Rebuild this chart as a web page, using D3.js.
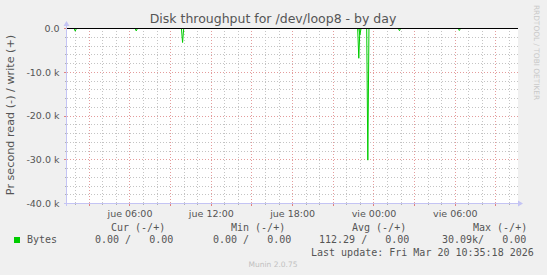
<!DOCTYPE html>
<html>
<head>
<meta charset="utf-8">
<script src="https://cdn.jsdelivr.net/npm/d3@7"></script>
<style>
  html, body { margin: 0; padding: 0; background: #f0f0f0; }
  svg { display: block; }
</style>
</head>
<body>
<div id="chart"></div>
<script>
// time window of the "by day" graph
const windowStart = new Date(2026, 2, 19, 1, 23, 25);
const windowEnd = new Date(2026, 2, 20, 10, 35, 18);

// read spikes (5 min samples), everything else is 0
const spikeTimes = [
  new Date(2026, 2, 19, 2, 0),
  new Date(2026, 2, 19, 6, 30),
  new Date(2026, 2, 19, 9, 55),
  new Date(2026, 2, 19, 22, 55),
  new Date(2026, 2, 19, 23, 0),
  new Date(2026, 2, 19, 23, 35),
  new Date(2026, 2, 20, 1, 55),
  new Date(2026, 2, 20, 6, 20)
];
const readValues = [-600, -550, -3200, -6800, -1400, -30090, -500, -450];

const yTicks = [0, -10000, -20000, -30000, -40000];
const dayNames = ["dom", "lun", "mar", "mié", "jue", "vie", "sáb"];

const legendHeads = ["Cur (-/+)", "Min (-/+)", "Avg (-/+)", "Max (-/+)"];
const legendValues = ["0.00 /   0.00", "0.00 /   0.00", "112.29 /   0.00", "30.09k/   0.00"];
const seriesName = "Bytes";
const lastUpdate = "Last update: Fri Mar 20 10:35:18 2026";

const W = 547, H = 275;
const plot = { left: 67, right: 517, top: 28, bottom: 203 };

const green = "#00cc00";
const textColor = "#555";
const axisColor = "#c4c4f4";
const minorColor = "#c4c4c4";
const majorColor = "#e49c9c";

const svg = d3.select("#chart").append("svg")
  .attr("width", W)
  .attr("height", H);

svg.append("rect")
  .attr("width", W).attr("height", H)
  .attr("fill", "#f0f0f0");

const x = d3.scaleTime()
  .domain([windowStart, windowEnd])
  .range([plot.left, plot.right]);

const y = d3.scaleLinear()
  .domain([-40000, 0])
  .range([plot.bottom, plot.top]);

const crisp = v => Math.round(v) + 0.5;

// canvas
svg.append("rect")
  .attr("x", plot.left)
  .attr("y", plot.top)
  .attr("width", plot.right - plot.left + 1)
  .attr("height", plot.bottom - plot.top)
  .attr("fill", "#fff");

const gridG = svg.append("g")
  .attr("stroke-width", 1)
  .attr("stroke-dasharray", "1,2")
  .attr("shape-rendering", "crispEdges")
  .attr("fill", "none");

// horizontal grid: minor every 2k, major every 10k
const yMinor = d3.range(-38000, 0, 2000).filter(v => v % 10000 !== 0);
const yMajor = [-30000, -20000, -10000, 0];

gridG.selectAll("line.hmin")
  .data(yMinor)
  .enter().append("line")
  .attr("x1", plot.left).attr("x2", plot.right + 1)
  .attr("y1", d => crisp(y(d))).attr("y2", d => crisp(y(d)))
  .attr("stroke", minorColor);

// vertical grid: minor each hour, major every 3 hours
const hours = d3.timeHour.every(1).range(windowStart, windowEnd);
const xMinor = hours.filter(d => d.getHours() % 3 !== 0);
const xMajor = hours.filter(d => d.getHours() % 3 === 0);

gridG.selectAll("line.vmin")
  .data(xMinor)
  .enter().append("line")
  .attr("x1", d => crisp(x(d))).attr("x2", d => crisp(x(d)))
  .attr("y1", plot.top).attr("y2", plot.bottom)
  .attr("stroke", minorColor);

gridG.selectAll("line.hmaj")
  .data(yMajor)
  .enter().append("line")
  .attr("x1", plot.left).attr("x2", plot.right + 1)
  .attr("y1", d => crisp(y(d))).attr("y2", d => crisp(y(d)))
  .attr("stroke", majorColor);

gridG.selectAll("line.vmaj")
  .data(xMajor)
  .enter().append("line")
  .attr("x1", d => crisp(x(d))).attr("x2", d => crisp(x(d)))
  .attr("y1", plot.top).attr("y2", plot.bottom)
  .attr("stroke", majorColor);

// axis ticks
const tickG = svg.append("g").attr("stroke-width", 1);
tickG.selectAll("line.xt")
  .data(hours)
  .enter().append("line")
  .attr("x1", d => crisp(x(d))).attr("x2", d => crisp(x(d)))
  .attr("y1", plot.bottom)
  .attr("y2", d => d.getHours() % 3 === 0 ? plot.bottom + 3 : plot.bottom + 2)
  .attr("stroke", d => d.getHours() % 3 === 0 ? "#e08080" : "#b0b0b0");

tickG.selectAll("line.yt")
  .data(d3.range(-38000, 1, 2000))
  .enter().append("line")
  .attr("y1", d => crisp(y(d))).attr("y2", d => crisp(y(d)))
  .attr("x1", d => d % 10000 === 0 ? plot.left - 3 : plot.left - 2)
  .attr("x2", plot.left)
  .attr("stroke", d => d % 10000 === 0 ? "#e08080" : "#b0b0b0");

// series: zero baseline with the read spikes
const points = [{ t: windowStart, v: 0 }];
spikeTimes.forEach((t, i) => {
  points.push({ t: d3.timeMinute.offset(t, -5), v: 0 });
  points.push({ t: t, v: readValues[i] });
  points.push({ t: d3.timeMinute.offset(t, 5), v: 0 });
});
points.push({ t: windowEnd, v: 0 });

const line = d3.line()
  .x(d => x(d.t))
  .y(d => y(d.v) + 0.5);

svg.append("path")
  .datum(points)
  .attr("d", line)
  .attr("fill", "none")
  .attr("stroke", green)
  .attr("stroke-width", 1);

// zero rule
svg.append("line")
  .attr("x1", plot.left).attr("x2", plot.right + 1)
  .attr("y1", crisp(y(0))).attr("y2", crisp(y(0)))
  .attr("stroke", "#000")
  .attr("stroke-width", 1);

// axes lines and arrows
svg.append("line")
  .attr("x1", plot.left - 3).attr("x2", plot.right + 1)
  .attr("y1", crisp(plot.bottom)).attr("y2", crisp(plot.bottom))
  .attr("stroke", axisColor);
svg.append("line")
  .attr("x1", crisp(plot.left - 1)).attr("x2", crisp(plot.left - 1))
  .attr("y1", plot.bottom + 3).attr("y2", plot.top - 2)
  .attr("stroke", axisColor);
svg.append("path")
  .attr("d", `M${plot.right + 1},${plot.bottom - 2.5}L${plot.right + 6},${plot.bottom + 0.5}L${plot.right + 1},${plot.bottom + 3.5}Z`)
  .attr("fill", axisColor);
svg.append("path")
  .attr("d", `M${plot.left - 3.5},${plot.top - 2}L${plot.left - 0.5},${plot.top - 7}L${plot.left + 2.5},${plot.top - 2}Z`)
  .attr("fill", axisColor);

// tick labels
const xLabels = d3.timeHour.every(6).range(windowStart, windowEnd);
const xAxis = d3.axisBottom(x)
  .tickValues(xLabels)
  .tickSize(0)
  .tickPadding(0)
  .tickFormat(d => dayNames[d.getDay()] + " " + d3.timeFormat("%H:%M")(d));

const xAxisG = svg.append("g")
  .attr("transform", `translate(0,${plot.bottom + 6})`)
  .call(xAxis);
xAxisG.select(".domain").remove();
xAxisG.selectAll("text")
  .attr("dy", null)
  .attr("y", 7.5)
  .attr("fill", textColor)
  .attr("font-family", "DejaVu Sans")
  .attr("font-size", 9.5);

const yAxis = d3.axisLeft(y)
  .tickValues(yTicks)
  .tickSize(0)
  .tickPadding(7.5)
  .tickFormat(d => d === 0 ? "0.0" : (d / 1000).toFixed(1) + " k");

const yAxisG = svg.append("g")
  .attr("transform", `translate(${plot.left},0)`)
  .call(yAxis);
yAxisG.select(".domain").remove();
yAxisG.selectAll("text")
  .attr("dy", "3.4")
  .attr("fill", textColor)
  .attr("font-family", "DejaVu Sans")
  .attr("font-size", 9.5);

// title
svg.append("text")
  .attr("x", 273)
  .attr("y", 22.5)
  .attr("text-anchor", "middle")
  .attr("font-family", "DejaVu Sans")
  .attr("font-size", 12.5)
  .attr("fill", textColor)
  .text("Disk throughput for /dev/loop8 - by day");

// vertical axis title
svg.append("text")
  .attr("transform", "translate(13.5,115) rotate(-90)")
  .attr("text-anchor", "middle")
  .attr("font-family", "DejaVu Sans")
  .attr("font-size", 11.2)
  .attr("fill", textColor)
  .text("Pr second read (-) / write (+)");

// watermark
svg.append("text")
  .attr("transform", "translate(533.5,52.5) rotate(90)")
  .attr("text-anchor", "middle")
  .attr("font-family", "DejaVu Sans")
  .attr("font-size", 7.4)
  .attr("fill", "#c8c8c8")
  .text("RRDTOOL / TOBI OETIKER");

// legend
const mono = "DejaVu Sans Mono";
const headX = [111, 231, 352, 473];
const valX = [95, 213, 319, 442];

svg.selectAll("text.head")
  .data(legendHeads)
  .enter().append("text")
  .attr("x", (d, i) => headX[i])
  .attr("y", 230.5)
  .attr("xml:space", "preserve")
  .style("white-space", "pre")
  .attr("font-family", mono)
  .attr("font-size", 10)
  .attr("fill", textColor)
  .text(d => d);

svg.append("rect")
  .attr("x", 14).attr("y", 237)
  .attr("width", 6).attr("height", 6)
  .attr("fill", green);

svg.append("text")
  .attr("x", 27)
  .attr("y", 243)
  .attr("font-family", mono)
  .attr("font-size", 10)
  .attr("fill", textColor)
  .text(seriesName);

svg.selectAll("text.val")
  .data(legendValues)
  .enter().append("text")
  .attr("x", (d, i) => valX[i])
  .attr("y", 243)
  .attr("xml:space", "preserve")
  .style("white-space", "pre")
  .attr("font-family", mono)
  .attr("font-size", 10)
  .attr("fill", textColor)
  .text(d => d);

svg.append("text")
  .attr("x", 311)
  .attr("y", 255.5)
  .style("white-space", "pre")
  .attr("font-family", mono)
  .attr("font-size", 10)
  .attr("fill", textColor)
  .text(lastUpdate);

svg.append("text")
  .attr("x", 273)
  .attr("y", 266.5)
  .attr("text-anchor", "middle")
  .attr("font-family", "DejaVu Sans")
  .attr("font-size", 7.5)
  .attr("fill", "#c0c0c0")
  .text("Munin 2.0.75");
</script>
</body>
</html>
